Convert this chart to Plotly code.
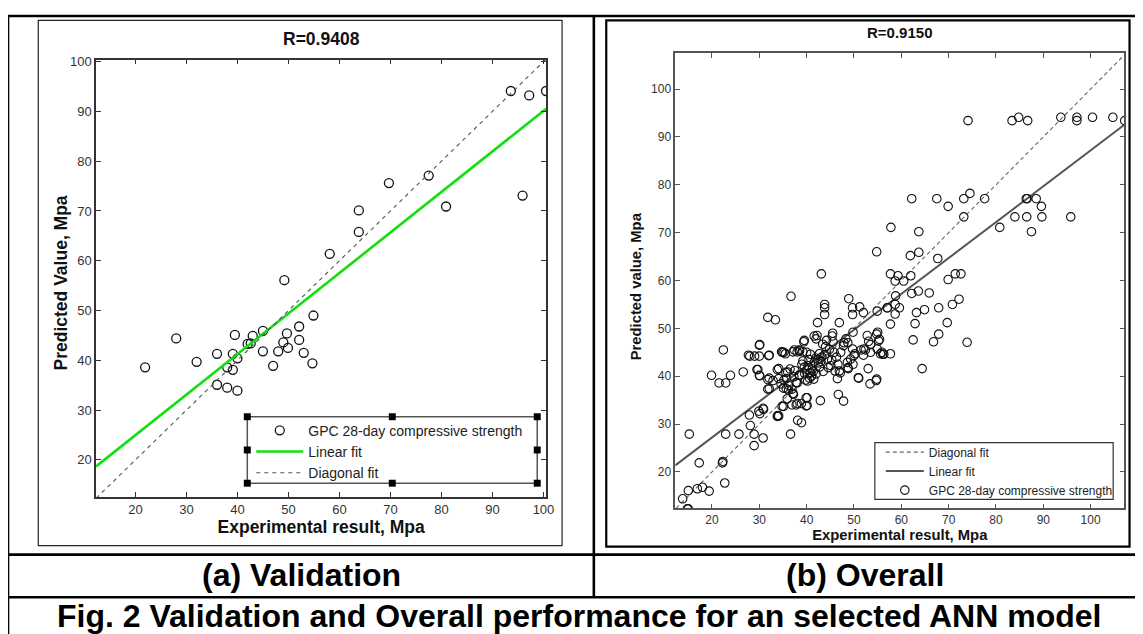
import plotly.graph_objects as go

# The page body adds an 8px margin, so the figure is placed at (8, 8) in the window.
OX, OY = 8, 8
W, H = 1143 - OX, 634 - OY

# ---------------- data: (a) Validation ----------------
val_experimental = [21.9, 28.0, 32.0, 36.0, 36.0, 38.0, 38.0, 39.1, 39.1, 39.5, 40.0, 40.0,
                    42.0, 42.6, 43.0, 45.0, 45.0, 47.0, 48.0, 49.0, 49.2, 49.7, 49.9, 52.1,
                    52.1, 53.0, 54.7, 54.9, 58.1, 63.8, 63.8, 69.7, 77.5, 80.9, 93.6, 95.9,
                    97.2, 100.5]
val_predicted = [38.6, 44.4, 39.7, 41.3, 35.1, 34.5, 38.6, 41.3, 38.1, 45.1, 40.4, 33.9,
                 43.3, 43.4, 44.9, 45.9, 41.8, 38.9, 41.8, 43.6, 56.1, 45.4, 42.5, 46.8,
                 44.1, 41.5, 39.4, 49.0, 61.4, 65.8, 70.1, 75.6, 77.1, 70.9, 94.1, 73.1,
                 93.2, 94.1]
val_fit = (0.814, 8.7)           # slope, intercept of the linear fit
val_xrange = [12.29, 100.53]
val_yrange = [12.53, 100.4]
val_ticks = [20, 30, 40, 50, 60, 70, 80, 90, 100]

# ---------------- data: (b) Overall ----------------
all_points = [
    (13.8, 14.4), (15.0, 16.1), (14.8, 12.3), (15.0, 12.3), (15.2, 27.9), (16.9, 16.5), (18.0, 16.8),
    (17.3, 21.9), (19.4, 16.0), (19.9, 40.2), (21.5, 38.6), (22.2, 21.9), (22.3, 22.2), (22.4, 45.5),
    (22.9, 38.6), (23.9, 40.2), (22.9, 27.9), (22.7, 17.7), (25.7, 27.9), (26.6, 40.9), (27.9, 31.9),
    (28.1, 29.7), (28.0, 44.2), (29.0, 44.2), (28.9, 27.9), (28.9, 25.5), (29.5, 41.4), (29.9, 32.7),
    (30.1, 32.2), (30.0, 40.2), (30.0, 46.5), (30.0, 44.2), (30.8, 33.3), (30.9, 33.1), (30.8, 27.1),
    (31.8, 52.3), (32.0, 44.3), (31.8, 39.3), (31.8, 37.3), (33.4, 51.8), (33.8, 31.6), (33.9, 31.8),
    (32.9, 39.1), (33.8, 41.4), (34.1, 39.5), (34.6, 38.4), (34.9, 45.0), (35.2, 45.0), (35.5, 44.7),
    (34.8, 33.7), (35.7, 37.4), (36.0, 40.9), (35.7, 39.5), (35.9, 35.3), (36.2, 37.1), (36.7, 56.7),
    (36.6, 27.9), (36.9, 37.3), (36.9, 34.0), (37.1, 36.4), (37.1, 45.1), (38.0, 45.1), (38.5, 45.3),
    (38.1, 30.8), (38.9, 30.3), (38.0, 34.3), (38.4, 40.2), (37.8, 38.7), (38.9, 34.3), (39.2, 45.1),
    (39.4, 47.2), (39.9, 33.8), (39.9, 35.5), (39.5, 41.9), (40.1, 41.4), (40.3, 42.2), (40.9, 40.7),
    (40.6, 39.6), (41.0, 40.0), (41.6, 42.9), (42.2, 48.5), (42.0, 47.8), (42.3, 51.2), (42.7, 44.7),
    (43.0, 43.1), (42.7, 41.9), (42.9, 34.9), (43.1, 61.4), (43.4, 46.7), (43.8, 55.0), (43.8, 54.3),
    (43.8, 52.9), (44.4, 43.6), (44.8, 45.6), (45.1, 42.2), (45.5, 49.0), (45.8, 45.0), (46.0, 41.1),
    (46.9, 51.2), (46.5, 39.5), (46.7, 36.2), (47.8, 34.8), (46.9, 41.1), (47.2, 45.0), (47.8, 46.4),
    (48.3, 47.8), (48.6, 42.9), (48.9, 56.2), (49.7, 54.3), (49.7, 52.9), (49.8, 49.2), (49.7, 45.7),
    (50.0, 44.3), (48.8, 41.6), (51.0, 39.6), (51.2, 54.5), (52.0, 53.3), (52.1, 45.7), (52.8, 48.5),
    (53.0, 41.6), (53.4, 38.4), (53.5, 45.0), (54.7, 39.1), (54.8, 48.8), (55.2, 47.4), (55.6, 44.7),
    (54.9, 53.6), (55.9, 45.0), (57.0, 54.3), (57.7, 44.7), (57.7, 50.9), (57.7, 61.4),
    (45.4, 48.4), (47.1, 40.7), (47.9, 47.0), (48.7, 47.0), (49.3, 43.6), (49.8, 42.5), (50.2, 44.7),
    (48.7, 41.8), (51.5, 45.5), (52.4, 45.5), (52.0, 44.4), (53.1, 47.3), (53.5, 46.6), (50.9, 39.7),
    (55.0, 49.2), (55.4, 47.7), (54.8, 39.4), (56.1, 44.6), (56.3, 44.6),
    (39.0, 42.5), (39.6, 40.5), (40.2, 39.0), (40.5, 43.5), (41.2, 41.5), (41.5, 39.4), (42.0, 40.5),
    (42.5, 42.8), (43.5, 41.0), (43.8, 44.5), (44.2, 47.5), (44.6, 41.8), (45.3, 43.4), (45.6, 47.2),
    (46.3, 44.0), (46.6, 42.5), (41.4, 41.0), (40.7, 40.7), (39.8, 39.2), (38.5, 40.3), (37.3, 39.9),
    (38.0, 38.6), (36.2, 38.1), (35.1, 37.5), (35.2, 39.2), (34.1, 41.6), (32.1, 37.4), (32.1, 39.6),
    (30.1, 40.1), (29.7, 41.4), (30.1, 46.6), (27.7, 44.4), (32.1, 44.4), (34.7, 45.1), (37.4, 45.5),
    (38.4, 45.5), (39.5, 47.5), (41.6, 48.4), (40.1, 33.9), (40.1, 35.5), (37.2, 36.2), (37.8, 34.0),
    (35.1, 33.7), (34.1, 31.7), (40.0, 45.0), (42.4, 43.5), (44.0, 46.2), (43.2, 44.0), (41.9, 43.8),
    (40.8, 44.6), (39.2, 43.2), (37.5, 41.2), (36.5, 41.5), (35.6, 40.8),
    (74.1, 93.4), (83.4, 93.4), (84.8, 94.1), (86.7, 93.4), (93.7, 94.1), (97.1, 94.1), (97.1, 93.4),
    (100.4, 94.1), (104.7, 94.1), (107.2, 93.4),
    (62.2, 77.1), (67.5, 77.1), (69.9, 75.5), (73.2, 77.1), (74.5, 78.2), (77.6, 77.1), (73.2, 73.3),
    (86.4, 77.1), (86.6, 77.1), (88.5, 77.1), (89.6, 75.5), (84.0, 73.3), (86.5, 73.3), (89.7, 73.3),
    (95.8, 73.3), (80.8, 71.1), (87.5, 70.2),
    (57.8, 71.1), (63.7, 70.2), (54.8, 66.0), (61.9, 65.2), (63.7, 65.9), (67.7, 64.6), (59.3, 61.0),
    (58.7, 59.9), (60.5, 59.9), (62.0, 61.0), (69.9, 60.2), (71.4, 61.4), (72.6, 61.4), (58.8, 56.8),
    (62.2, 57.3), (63.6, 57.8), (65.9, 57.4), (70.8, 55.0), (72.2, 56.1),
    (57.1, 54.3), (58.7, 55.0), (58.7, 53.0), (59.6, 54.3), (63.2, 53.3), (64.9, 53.9), (67.9, 54.3),
    (62.9, 51.0), (69.7, 51.2), (62.5, 47.6), (66.8, 47.2), (67.9, 48.8), (73.9, 47.1), (64.4, 41.6),
    (54.9, 45.7),
]
all_experimental = [p[0] for p in all_points]
all_predicted = [p[1] for p in all_points]
all_fit = (0.75, 12.2)
all_xrange = [12.24, 107.13]
all_yrange = [12.41, 107.46]
all_ticks = [20, 30, 40, 50, 60, 70, 80, 90, 100]

FONT = "Liberation Sans, Arial, sans-serif"


def px(x):
    return (x - OX) / W


def py(y):
    return 1 - (y - OY) / H


fig = go.Figure()

# ----- left panel traces -----
fig.add_trace(go.Scatter(
    x=val_experimental, y=val_predicted, mode="markers", name="GPC 28-day compressive strength",
    marker=dict(symbol="circle-open", size=9, color="#111", line=dict(width=1.3, color="#111")),
    xaxis="x", yaxis="y", legend="legend"))
fig.add_trace(go.Scatter(
    x=val_xrange, y=[val_fit[0] * v + val_fit[1] for v in val_xrange], mode="lines",
    name="Linear fit", line=dict(color="#10e010", width=2.6),
    xaxis="x", yaxis="y", legend="legend"))
fig.add_trace(go.Scatter(
    x=val_xrange, y=val_xrange, mode="lines", name="Diagonal fit",
    line=dict(color="#555", width=1.1, dash="4px,4px"),
    xaxis="x", yaxis="y", legend="legend"))

# ----- right panel traces -----
fig.add_trace(go.Scatter(
    x=[all_yrange[0], all_xrange[1]], y=[all_yrange[0], all_xrange[1]], mode="lines", name="Diagonal fit",
    line=dict(color="#666", width=1.1, dash="4px,3px"),
    xaxis="x2", yaxis="y2", legend="legend2"))
fig.add_trace(go.Scatter(
    x=all_xrange, y=[all_fit[0] * v + all_fit[1] for v in all_xrange], mode="lines",
    name="Linear fit", line=dict(color="#555", width=2),
    xaxis="x2", yaxis="y2", legend="legend2"))
fig.add_trace(go.Scatter(
    x=all_experimental, y=all_predicted, mode="markers", name="GPC 28-day compressive strength",
    marker=dict(symbol="circle-open", size=8.5, color="#111", line=dict(width=1.1, color="#111")),
    xaxis="x2", yaxis="y2", legend="legend2"))

axis_common = dict(showgrid=False, zeroline=False, showline=True, mirror="allticks",
                   ticks="inside", ticklen=5, tickwidth=1)

fig.update_layout(
    width=W, height=H, margin=dict(l=0, r=0, t=0, b=0),
    paper_bgcolor="white", plot_bgcolor="white",
    font=dict(family=FONT, color="#222"),
    xaxis=dict(domain=[px(96.7), px(550)], range=val_xrange, tickvals=val_ticks,
               linecolor="#333", linewidth=1.5, tickcolor="#333",
               tickfont=dict(size=13, color="#333"), anchor="y",
               title=dict(text="Experimental result, Mpa", standoff=2,
                          font=dict(size=17.5, color="#111", weight="bold")),
               **axis_common),
    yaxis=dict(domain=[py(496), py(55)], range=val_yrange, tickvals=val_ticks,
               linecolor="#333", linewidth=1.5, tickcolor="#333",
               tickfont=dict(size=13, color="#333"), anchor="x",
               **axis_common),
    xaxis2=dict(domain=[px(680), px(1132.3)], range=all_xrange, tickvals=all_ticks,
                linecolor="#555", linewidth=1.5, tickcolor="#555",
                tickfont=dict(size=12, color="#333"), anchor="y2",
                title=dict(text="Experimental result, Mpa", standoff=0,
                           font=dict(size=14.8, color="#111", weight="bold")),
                **axis_common),
    yaxis2=dict(domain=[py(507.3), py(48.7)], range=all_yrange, tickvals=all_ticks,
                linecolor="#555", linewidth=1.5, tickcolor="#555",
                tickfont=dict(size=12, color="#333"), anchor="x2",
                **axis_common),
    legend=dict(x=px(253), y=py(413), xanchor="left", yanchor="top",
                bgcolor="rgba(0,0,0,0)", borderwidth=0, itemwidth=47,
                font=dict(size=14, color="#222"), tracegroupgap=0),
    legend2=dict(x=px(887), y=py(436), xanchor="left", yanchor="top",
                 bgcolor="rgba(0,0,0,0)", borderwidth=0, itemwidth=38,
                 font=dict(size=12, color="#222"), tracegroupgap=0),
)

shapes = []
# legend boxes
shapes.append(dict(type="rect", xref="paper", yref="paper", x0=px(249), x1=px(541), y0=py(482), y1=py(415),
                   line=dict(color="#555", width=1.5), fillcolor="white", layer="above"))
for hx, hy in [(249, 415), (395, 415), (541, 415), (249, 448.5), (541, 448.5), (249, 482), (395, 482), (541, 482)]:
    shapes.append(dict(type="rect", xref="paper", yref="paper", x0=px(hx - 3.5), x1=px(hx + 3.5),
                       y0=py(hy + 3.5), y1=py(hy - 3.5), line=dict(width=0), fillcolor="black", layer="above"))
shapes.append(dict(type="rect", xref="paper", yref="paper", x0=px(881), x1=px(1121), y0=py(498.3), y1=py(441),
                   line=dict(color="#333", width=1.2), fillcolor="white", layer="above"))
# figure frames
shapes.append(dict(type="rect", xref="paper", yref="paper", x0=px(38.5), x1=px(566), y0=py(545), y1=py(15.5),
                   line=dict(color="#222", width=1.2), layer="above"))
shapes.append(dict(type="rect", xref="paper", yref="paper", x0=px(610.5), x1=px(1137.5), y0=py(546), y1=py(15.5),
                   line=dict(color="black", width=2.2), layer="above"))
# table lines
for x0, y0, x1, y1 in [(8, 11, 1143, 11), (8, 11, 8, 634), (598, 11, 598, 597),
                       (8, 554, 1143, 554), (8, 597, 1143, 597)]:
    shapes.append(dict(type="line", xref="paper", yref="paper", x0=px(x0), x1=px(x1), y0=py(y0), y1=py(y1),
                       line=dict(color="black", width=2.6), layer="above"))
fig.update_layout(shapes=shapes)

annotations = [
    dict(text="R=0.9408", x=px(323.3), y=py(34), font=dict(size=17.5, color="#111", weight="bold")),
    dict(text="R=0.9150", x=px(906), y=py(28), font=dict(size=15, color="#111", weight="bold")),
    dict(text="Predicted Value, Mpa", x=px(61), y=py(280), textangle=-90,
         font=dict(size=17.5, color="#111", weight="bold")),
    dict(text="Predicted value, Mpa", x=px(640), y=py(284), textangle=-90,
         font=dict(size=14.8, color="#111", weight="bold")),
    dict(text="(a) Validation", x=px(304), y=py(575), font=dict(size=32, color="black", weight="bold")),
    dict(text="(b) Overall", x=px(871), y=py(575), font=dict(size=32, color="black", weight="bold")),
    dict(text="Fig. 2 Validation and Overall performance for an selected ANN model", x=px(583), y=py(616),
         font=dict(size=32, color="black", weight="bold")),
]
for a in annotations:
    a.update(xref="paper", yref="paper", showarrow=False, xanchor="center", yanchor="middle")
fig.update_layout(annotations=annotations)

fig.write_html("out.html")
